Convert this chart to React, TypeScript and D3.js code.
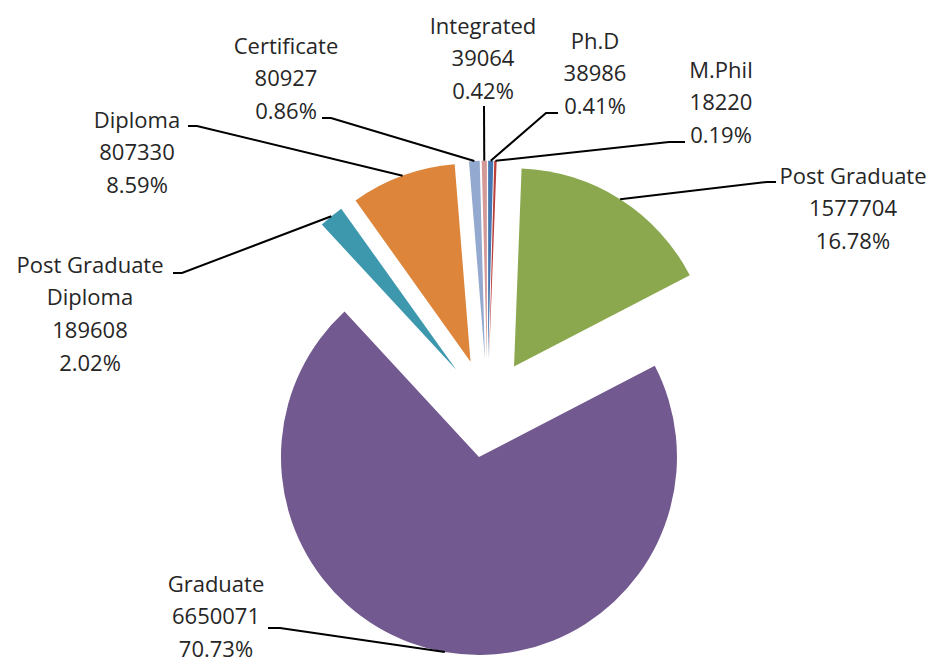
import React from 'react';
import * as d3 from 'd3';

const width = 934;
const height = 663;

// data in Excel order: first slice starts at 12 o'clock, going clockwise
const categories = ['Ph.D', 'M.Phil', 'Post Graduate', 'Graduate', 'Post Graduate Diploma', 'Diploma', 'Certificate', 'Integrated'];
const values = [38986, 18220, 1577704, 6650071, 189608, 807330, 80927, 39064];
const colors = ['#4677B0', '#B9403D', '#8BA84F', '#72598F', '#3D98AE', '#DD853A', '#93A9CF', '#D39A97'];

// label name lines (PG Diploma wraps on two lines)
const nameLines = [['Ph.D'], ['M.Phil'], ['Post Graduate'], ['Graduate'], ['Post Graduate', 'Diploma'], ['Diploma'], ['Certificate'], ['Integrated']];

// label layout: text centre x, first line centre y, and leader line start + elbow
const labelPos = [
  { x: 595, y: 41, start: [558, 113], elbow: [546, 113] },
  { x: 721, y: 70, start: [685, 142], elbow: [669, 142] },
  { x: 853, y: 176, start: [776, 182], elbow: [767, 182] },
  { x: 216, y: 584, start: [268, 628], elbow: [280, 628] },
  { x: 90, y: 265, start: [173, 273], elbow: [182, 273] },
  { x: 137, y: 120, start: [188, 126], elbow: [197, 126] },
  { x: 286, y: 46, start: [322, 118], elbow: [331, 118] },
  { x: 483, y: 26, start: [484, 106], elbow: [484, 106] },
];

const cx = 487.5;
const cy = 408.2;
const radius = 198;
const explode = 49.5;
const lineH = 32.7;

const total = d3.sum(values);

const pieGen = d3.pie<number>().sort(null).value(d => d);
const arcGen = d3.arc<d3.PieArcDatum<number>>().innerRadius(0).outerRadius(radius);

const App = () => {
  const slices = pieGen(values);
  return (
    <svg width={width} height={height} style={{ position: 'absolute', left: 0, top: 0 }}>
      <rect width={width} height={height} fill="#fff" />
      <g transform={`translate(${cx},${cy})`}>
        {slices.map((s, i) => {
          const mid = (s.startAngle + s.endAngle) / 2;
          const dx = Math.sin(mid) * explode;
          const dy = -Math.cos(mid) * explode;
          return (
            <path key={categories[i]} d={arcGen(s) || ''} fill={colors[i]} transform={`translate(${dx},${dy})`} />
          );
        })}
      </g>
      {slices.map((s, i) => {
        // leader ends at the middle of the exploded slice's outer arc
        const mid = (s.startAngle + s.endAngle) / 2;
        const ex = cx + Math.sin(mid) * (explode + radius);
        const ey = cy - Math.cos(mid) * (explode + radius);
        const p = labelPos[i];
        const pts = [p.start, p.elbow, [ex, ey]];
        return (
          <polyline key={i} points={pts.map(q => q.join(',')).join(' ')} fill="none" stroke="#000" strokeWidth={2} />
        );
      })}
      {slices.map((s, i) => {
        const p = labelPos[i];
        const lines = [...nameLines[i], String(values[i]), d3.format('.2%')(values[i] / total)];
        return (
          <text key={i} textAnchor="middle" fontFamily="'Open Sans', sans-serif" fontSize={22} fill="#262626">
            {lines.map((t, j) => (
              <tspan key={j} x={p.x} y={p.y + j * lineH} dy="0.35em">{t}</tspan>
            ))}
          </text>
        );
      })}
    </svg>
  );
};

export default App;
